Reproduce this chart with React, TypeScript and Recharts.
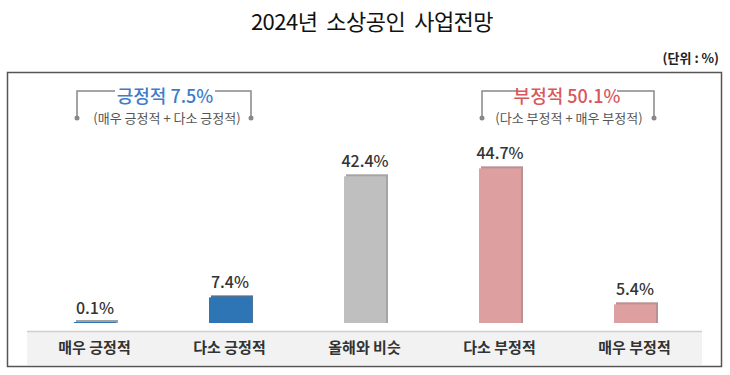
import React from 'react';
import { BarChart, Bar, XAxis, YAxis, LabelList, Cell } from 'recharts';

const categories = ['매우 긍정적', '다소 긍정적', '올해와 비슷', '다소 부정적', '매우 부정적'];
const values = [0.1, 7.4, 42.4, 44.7, 5.4];
const colors = ['#2E75B6', '#2E75B6', '#BFBFBF', '#DE9FA0', '#DE9FA0'];
const shadowColors = ['#8a8a8a', '#1f4f7a', '#8f8f8f', '#a87576', '#a87576'];

const data = categories.map((c, i) => ({ name: c, value: values[i] }));

const positiveSum = (values[0] + values[1]).toFixed(1);
const negativeSum = (values[3] + values[4]).toFixed(1);

const FONT = '"Noto Sans CJK KR", "Noto Sans", sans-serif';

const BarShape = (props: any) => {
  const { x, y, width, height, index } = props;
  if (height == null || width == null) return null;
  const h = Math.max(height, 1);
  const yy = y + height - h;
  return (
    <g>
      <rect x={x + 2} y={yy - 2} width={width} height={h + 2} fill={shadowColors[index]} opacity={0.8} />
      <rect x={x} y={yy} width={width} height={h} fill={colors[index]} />
    </g>
  );
};

const Tick = (props: any) => {
  const { x, y, payload } = props;
  const bw = 135;
  return (
    <g>
      <rect x={x - bw / 2} y={y} width={bw} height={34} fill="#F2F2F2" />
      <line x1={x - bw / 2} x2={x + bw / 2} y1={y + 0.5} y2={y + 0.5} stroke="#D0D0D0" strokeWidth={1.5} />
      <text x={x} y={y + 22} textAnchor="middle" fontSize={15} fontWeight={700} fill="#333" fontFamily={FONT}>
        {payload.value}
      </text>
    </g>
  );
};

const Bracket = ({ x1, x2, cx, title, sub, color }: any) => (
  <g>
    <polyline points={`${x1},118 ${x1},91 ${cx - 50},91`} fill="none" stroke="#888" strokeWidth={1.5} />
    <polyline points={`${cx + 50},91 ${x2},91 ${x2},118`} fill="none" stroke="#888" strokeWidth={1.5} />
    <circle cx={x1} cy={118} r={2.5} fill="#888" />
    <circle cx={x2} cy={118} r={2.5} fill="#888" />
    <text x={cx} y={103} textAnchor="middle" fontSize={18} fontWeight={500} fill={color} fontFamily={FONT}>{title}</text>
    <text x={cx + 2} y={123} textAnchor="middle" fontSize={13} fill="#555" fontFamily={FONT}>{sub}</text>
  </g>
);

export default function App() {
  return (
    <div style={{ position: 'fixed', left: 0, top: 0, width: 730, height: 375, background: '#fff' }}>
      <svg width={730} height={375} style={{ position: 'absolute', left: 0, top: 0 }}>
        <text x={372} y={30} textAnchor="middle" fontSize={22} fill="#111" fontFamily={FONT} letterSpacing={-0.5} style={{ whiteSpace: 'pre' }}>
          {'2024년  소상공인  사업전망'}
        </text>
        <text x={719} y={63} textAnchor="end" fontSize={13} fontWeight={700} fill="#222" fontFamily={FONT}>
          (단위 : %)
        </text>
        <rect x={7.5} y={72.5} width={714} height={294} fill="none" stroke="#555" strokeWidth={1.5} />
        <Bracket x1={77} x2={251} cx={165} title={`긍정적 ${positiveSum}%`} sub="(매우 긍정적 + 다소 긍정적)" color="#3D7CC9" />
        <Bracket x1={482} x2={654} cx={567} title={`부정적 ${negativeSum}%`} sub="(다소 부정적 + 매우 부정적)" color="#D9575B" />
      </svg>
      <div style={{ position: 'absolute', left: 0, top: 0 }}>
        <BarChart width={730} height={375} data={data} margin={{ top: 150, right: 28, bottom: 18, left: 27 }} barSize={42}>
          <XAxis dataKey="name" axisLine={false} tickLine={false} height={34} tick={<Tick />} interval={0} />
          <YAxis hide domain={[0, 50]} />
          <Bar dataKey="value" isAnimationActive={false} shape={<BarShape />}>
            {data.map((d, i) => (
              <Cell key={i} fill={colors[i]} />
            ))}
            <LabelList dataKey="value" position="top" offset={9} formatter={(v: any) => `${v}%`} fontSize={16} fontWeight={500} fill="#333" fontFamily={FONT} />
          </Bar>
        </BarChart>
      </div>
    </div>
  );
}
